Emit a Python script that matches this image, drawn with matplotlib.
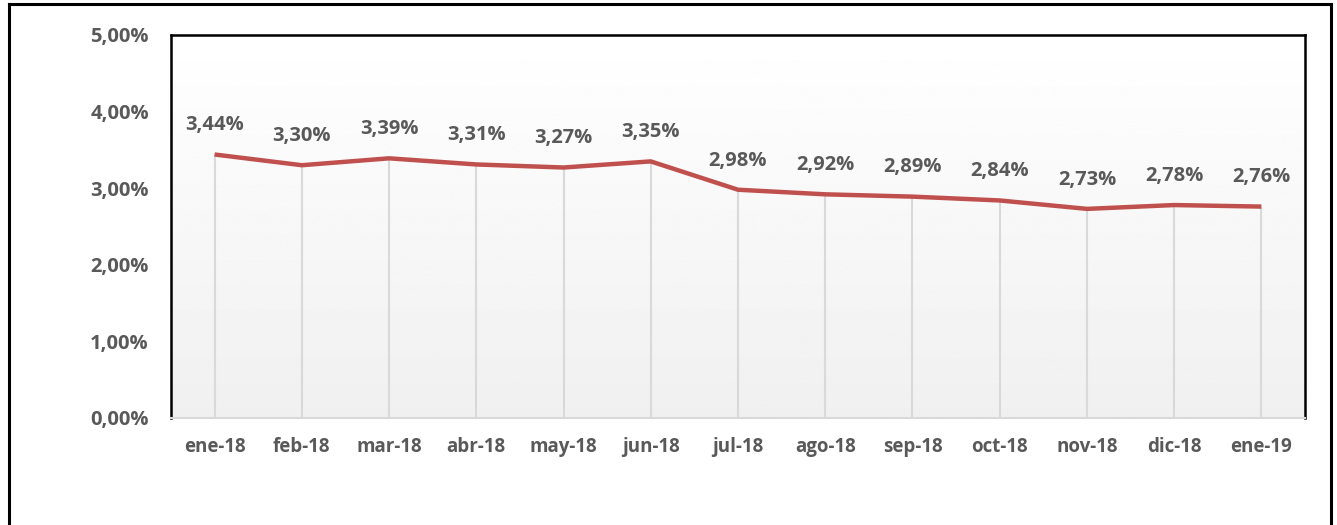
import matplotlib.pyplot as plt
import numpy as np
from matplotlib.lines import Line2D

months = ['ene-18', 'feb-18', 'mar-18', 'abr-18', 'may-18', 'jun-18', 'jul-18',
          'ago-18', 'sep-18', 'oct-18', 'nov-18', 'dic-18', 'ene-19']
rates = [3.44, 3.30, 3.39, 3.31, 3.27, 3.35, 2.98, 2.92, 2.89, 2.84, 2.73, 2.78, 2.76]
yticks = [0, 1, 2, 3, 4, 5]

W, H = 1337, 525
fig = plt.figure(figsize=(W / 100, H / 100), dpi=100)
plt.rcParams['font.family'] = ['Open Sans', 'DejaVu Sans']

# plot area in pixels
left, top, right, bottom = 171, 35, 1305, 418
ax = fig.add_axes([left / W, 1 - bottom / H, (right - left) / W, (bottom - top) / H])

x = np.arange(len(months))
ax.set_xlim(-0.5, len(months) - 0.5)
ax.set_ylim(0, 5)

# gradient background, white at top to light gray at bottom
grad = np.linspace(0.94, 1.0, 256).reshape(-1, 1)
ax.imshow(grad, extent=(-0.5, len(months) - 0.5, 0, 5), origin='lower',
          cmap='gray', vmin=0, vmax=1, aspect='auto', zorder=0)

# drop lines
ax.vlines(x, 0, rates, color='#d9d9d9', lw=1.5, zorder=1)
ax.plot(x, rates, color='#c0504d', lw=3.2, solid_capstyle='butt', zorder=3)

for xi, v in zip(x, rates):
    ax.annotate(f"{v:.2f}%".replace('.', ','), (xi, v), xytext=(0, 21),
                textcoords='offset points', ha='center', va='center',
                fontsize=14.5, fontweight='bold', color='#595959')

ax.set_xticks(x)
ax.set_xticklabels(months)
ax.set_yticks(yticks)
ax.set_yticklabels([f"{t},00%" for t in yticks])
ax.tick_params(length=0, labelcolor='#595959')
ax.tick_params(axis='x', pad=14, labelsize=13.5)
ax.tick_params(axis='y', pad=16, labelsize=14.5)
for lab in ax.get_xticklabels() + ax.get_yticklabels():
    lab.set_fontweight('bold')

for side in ['left', 'top', 'right']:
    ax.spines[side].set_color('black')
    ax.spines[side].set_linewidth(1.8)
ax.spines['bottom'].set_color('#d9d9d9')
ax.spines['bottom'].set_linewidth(1.5)

# outer frame
bx0, by0, bx1 = 9 / W, 1 - 4 / H, 1331 / W
for xs, ys in [([bx0, bx0], [0, by0]), ([bx0, bx1], [by0, by0]), ([bx1, bx1], [by0, 0])]:
    fig.add_artist(Line2D(xs, ys, color='black', lw=2.2, transform=fig.transFigure))

fig.savefig('out.png', dpi=100)
